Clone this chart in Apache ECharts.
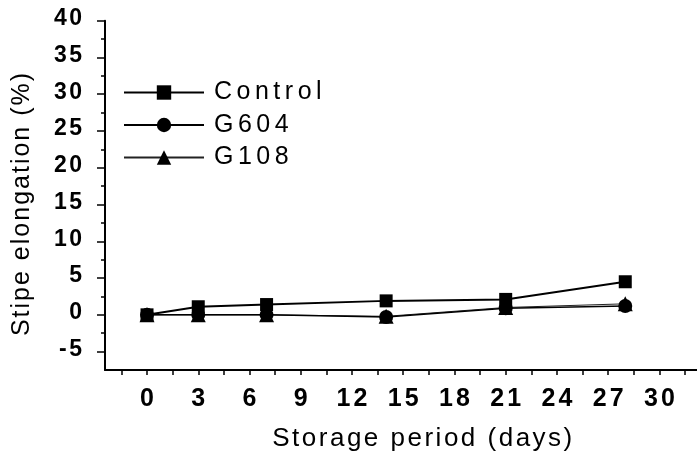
<!DOCTYPE html>
<html>
<head>
<meta charset="utf-8">
<script src="https://cdn.jsdelivr.net/npm/echarts@6/dist/echarts.min.js"></script>
<style>html,body{margin:0;padding:0;background:#fff}#c{width:697px;height:460px}</style>
</head>
<body>
<div id="c"></div>
<script>
// ---- data ----
var days = [0, 3, 7, 14, 21, 28];
var controlVals = [0, 1.1, 1.4, 1.9, 2.1, 4.5];
var g604Vals = [0, 0, 0, -0.3, 0.9, 1.2];
var g108Vals = [0, 0, 0, -0.2, 1.0, 1.5];
var seriesNames = ['Control', 'G604', 'G108'];
var xTickLabels = [0, 3, 6, 9, 12, 15, 18, 21, 24, 27, 30];
var xTicks = [-1.5, 0, 1.5, 3, 4.5, 6, 7.5, 9, 10.5, 12, 13.5, 15, 16.5, 18, 19.5, 21, 22.5, 24, 25.5, 27, 28.5, 30, 31.5];
var yTickLabels = [-5, 0, 5, 10, 15, 20, 25, 30, 35, 40];
var yMinorTicks = [-2.5, 2.5, 7.5, 12.5, 17.5, 22.5, 27.5, 32.5, 37.5];
var xTitle = 'Storage period (days)';
var yTitle = 'Stipe elongation (%)';

function spaced(str, style, firstStyle) {
  var out = '';
  for (var i = 0; i < str.length; i++) {
    var s = (i === 0 && firstStyle) ? firstStyle : style;
    out += '{' + s + '|' + str.charAt(i) + '}';
  }
  return out;
}
function pairs(xs, ys) { return xs.map(function (x, i) { return [x, ys[i]]; }); }

var font = '"Liberation Sans", Arial, sans-serif';
var chart = echarts.init(document.getElementById('c'), null, {renderer: 'canvas'});
chart.setOption({
  animation: false,
  backgroundColor: '#fff',
  grid: {left: 105, right: 0, top: 20.7, bottom: 90},
  graphic: [{
    type: 'text', x: 22.5, y: 204.5, rotation: Math.PI / 2,
    style: {
      text: spaced(yTitle, 'n'),
      align: 'center', verticalAlign: 'middle',
      rich: {n: {fontFamily: font, fontSize: 25, fill: '#000', padding: [0, 1, 0, 1], lineHeight: 27}}
    }
  }],
  legend: {
    data: seriesNames,
    orient: 'vertical',
    left: 123, top: 80, padding: 0,
    itemWidth: 80, itemHeight: 18, itemGap: 7.5,
    formatter: function (n) { return spaced(n, 'l', 'lf'); },
    textStyle: {
      rich: {
        l: {fontFamily: font, fontSize: 25, color: '#000', padding: [0, 4.5, 0, 0], lineHeight: 26},
        lf: {fontFamily: font, fontSize: 25, color: '#000', padding: [0, 4.5, 0, 5], lineHeight: 26}
      }
    }
  },
  xAxis: {
    type: 'value', min: -2.46, max: 32.2,
    splitLine: {show: false},
    axisLine: {onZero: false, lineStyle: {color: '#000', width: 2}},
    axisTick: {customValues: xTicks, length: 5, inside: false, lineStyle: {color: '#000', width: 1.5}},
    axisLabel: {
      customValues: xTickLabels, margin: 17,
      formatter: function (v) { return spaced(String(v), 'x'); },
      rich: {x: {fontFamily: font, fontWeight: 'bold', fontSize: 25, color: '#000', padding: [0, 1.5, 0, 1.5]}}
    },
    name: spaced(xTitle, 'n'), nameLocation: 'middle', nameGap: 55,
    nameTextStyle: {
      padding: [0, 0, 0, 45],
      rich: {n: {fontFamily: font, fontSize: 26, color: '#000', padding: [0, 2.5, 0, 0], lineHeight: 28}}
    }
  },
  yAxis: [{
    type: 'value', min: -7.5, max: 40,
    splitLine: {show: false},
    axisLine: {onZero: false, lineStyle: {color: '#000', width: 2}},
    axisTick: {customValues: yTickLabels, length: 8, lineStyle: {color: '#000', width: 1.5}},
    axisLabel: {
      customValues: yTickLabels, margin: 22,
      formatter: function (v) { return spaced(String(v), 'y'); },
      rich: {y: {fontFamily: font, fontWeight: 'bold', fontSize: 23, color: '#000', padding: [0, 1, 4, 1.5]}}
    }
  }, {
    type: 'value', min: -7.5, max: 40, position: 'left',
    splitLine: {show: false},
    axisLine: {show: false, onZero: false},
    axisLabel: {show: false},
    axisTick: {customValues: yMinorTicks, length: 4, lineStyle: {color: '#000', width: 1.5}}
  }],
  series: [{
    name: 'G108', type: 'line', data: pairs(days, g108Vals),
    symbol: 'triangle', symbolSize: 15, z: 2,
    lineStyle: {color: '#222', width: 1},
    itemStyle: {color: '#000'}
  }, {
    name: 'G604', type: 'line', data: pairs(days, g604Vals),
    symbol: 'circle', symbolSize: 14, z: 3,
    lineStyle: {color: '#000', width: 1.5},
    itemStyle: {color: '#000'}
  }, {
    name: 'Control', type: 'line', data: pairs(days, controlVals),
    symbol: 'rect', symbolSize: 13, z: 4,
    lineStyle: {color: '#000', width: 2},
    itemStyle: {color: '#000'}
  }]
});
</script>
</body>
</html>
